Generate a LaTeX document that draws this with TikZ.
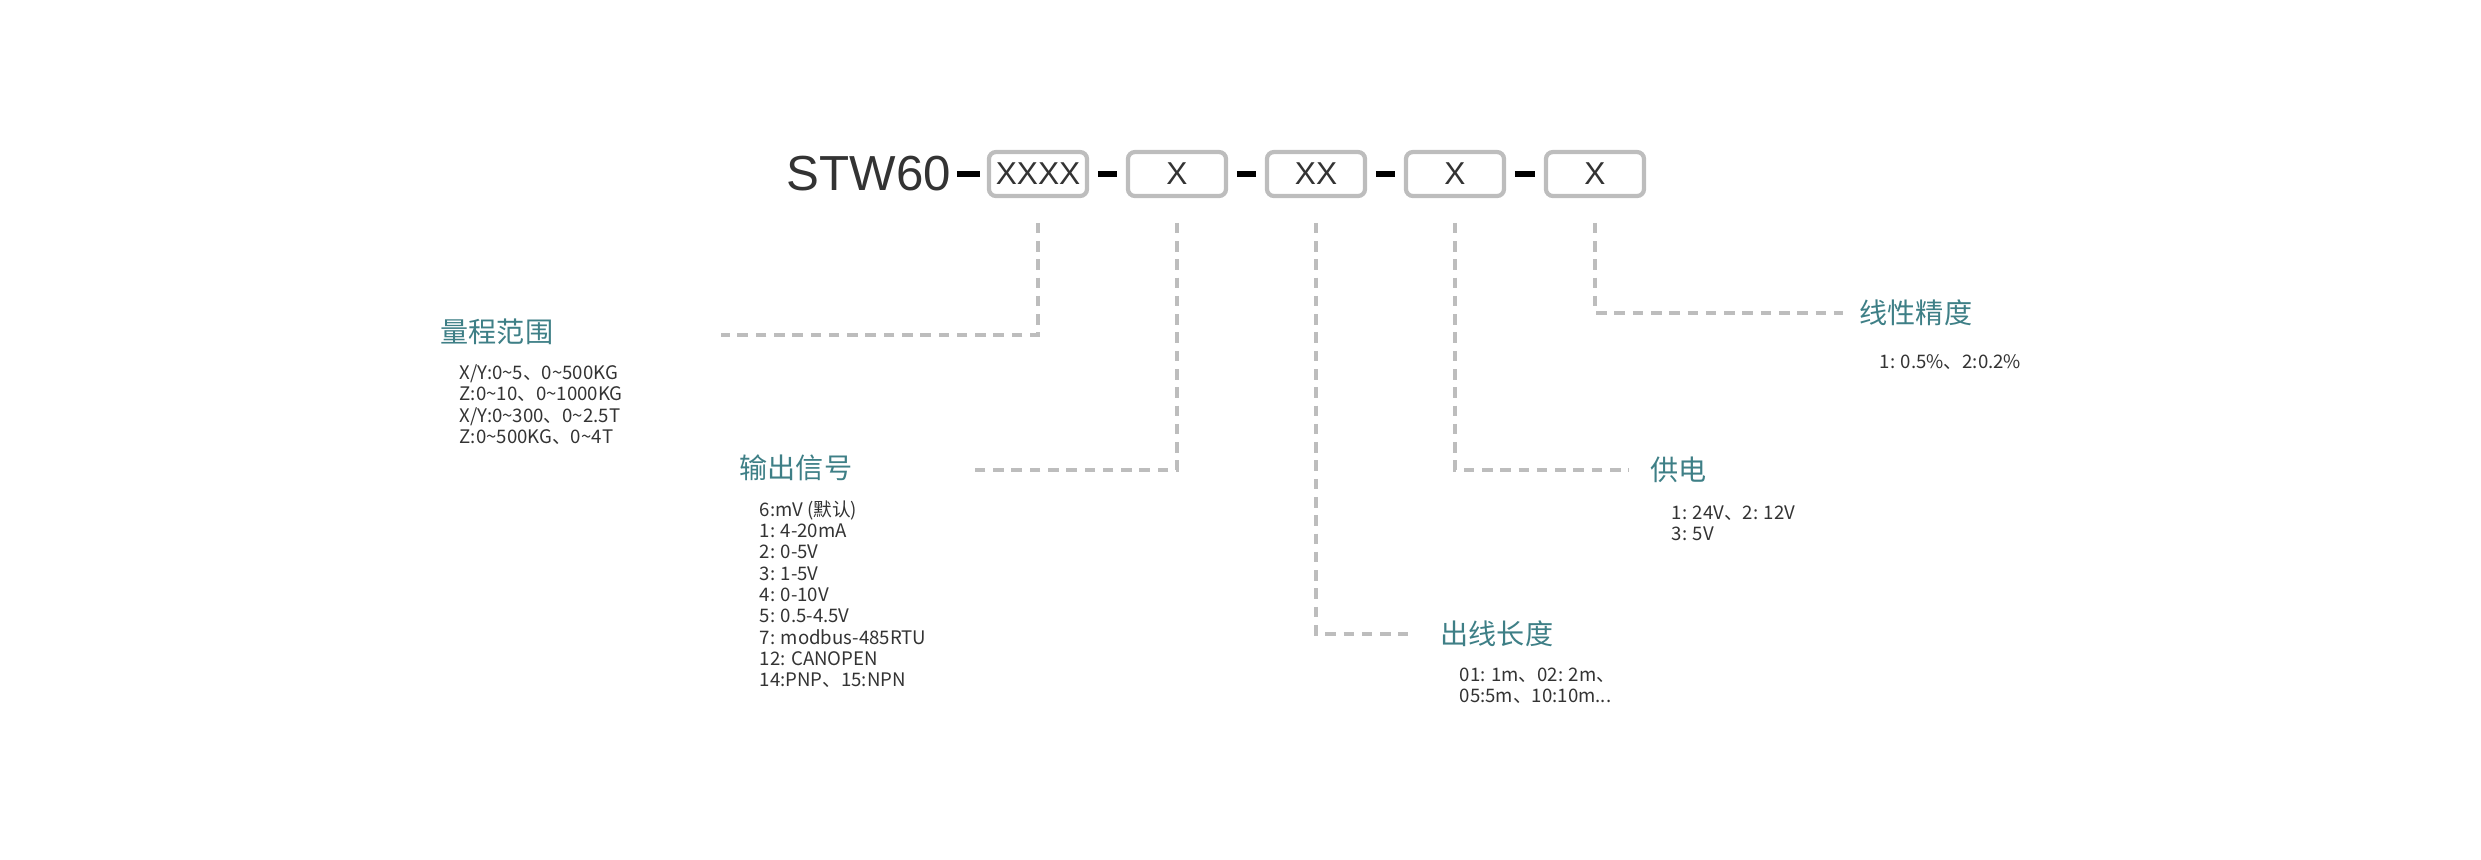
\documentclass[tikz,border=0pt]{standalone}
\usepackage{fontspec}
\setmainfont{Liberation Sans}
\newfontfamily\cjk{Noto Sans CJK SC}
\usetikzlibrary{positioning}
\definecolor{teal}{HTML}{3E7F86}
\definecolor{boxgray}{HTML}{BDBDBD}
\definecolor{txtgray}{HTML}{333333}
\tikzset{
  code/.style={draw=boxgray,line width=1.2pt,rounded corners=2pt,minimum width=0.98cm,minimum height=0.44cm,inner sep=0pt,font=\fontsize{9}{9}\selectfont,text=txtgray},
  lead/.style={draw=boxgray,line width=0.9pt,dash pattern=on 3pt off 2.2pt},
  head/.style={anchor=west,inner sep=0pt,text=teal,font=\cjk\fontsize{8}{8}\selectfont},
  items/.style={anchor=north west,inner sep=0pt,align=left,text=txtgray,font=\cjk\fontsize{5.3}{6.05}\selectfont},
  sep/.style={line width=1.6pt,black}
}
\begin{document}
\begin{tikzpicture}[x=0.01cm,y=-0.01cm]
      \useasboundingbox (0,0) rectangle (2481,859);
      % model code
      \node[anchor=west,inner sep=0pt,font=\fontsize{14}{14}\selectfont,text=txtgray] (stw) at (786,174) {STW60};
      \node[code] (c1) at (1038,174) {XXXX};
      \node[code] (c2) at (1177,174) {X};
      \node[code] (c3) at (1316,174) {XX};
      \node[code] (c4) at (1455,174) {X};
      \node[code] (c5) at (1595,174) {X};
      \draw[sep] ([xshift=1.5pt]stw.east) -- ([xshift=-2pt]c1.west);
      \foreach \a/\b in {c1/c2, c2/c3, c3/c4, c4/c5} {
        \draw[sep] ([xshift=2.5pt]\a.east) -- ([xshift=-2.5pt]\b.west);
      }
      % headings
      \node[head] (h1) at (440,332) {量程范围};
      \node[head] (h2) at (739,468) {输出信号};
      \node[head] (h3) at (1440,634) {出线长度};
      \node[head] (h4) at (1650,470) {供电};
      \node[head] (h5) at (1859,313) {线性精度};
      % options
      \node[items] (o1) at (459,364) {X/Y:0\textasciitilde5、0\textasciitilde500KG\\Z:0\textasciitilde10、0\textasciitilde1000KG\\X/Y:0\textasciitilde300、0\textasciitilde2.5T\\Z:0\textasciitilde500KG、0\textasciitilde4T};
      \node[items] (o2) at (759,500) {6:mV (默认)\\1: 4-20mA\\2: 0-5V\\3: 1-5V\\4: 0-10V\\5: 0.5-4.5V\\7: modbus-485RTU\\12: CANOPEN\\14:PNP、15:NPN};
      \node[items] (o3) at (1459,667) {01: 1m、02: 2m、\\05:5m、10:10m...};
      \node[items] (o4) at (1671,505) {1: 24V、2: 12V\\3: 5V};
      \node[items] (o5) at (1879,354) {1: 0.5\%、2:0.2\%};
      % leader lines
      \coordinate (e1) at (721,335);
      \coordinate (e2) at (973,470);
      \coordinate (e3) at (1408,634);
      \coordinate (e4) at (1629,470);
      \coordinate (e5) at (1843,313);
      \draw[lead] ([yshift=-7pt]c1.south) |- (e1);
      \draw[lead] ([yshift=-7pt]c2.south) |- (e2);
      \draw[lead] ([yshift=-7pt]c3.south) |- (e3);
      \draw[lead] ([yshift=-7pt]c4.south) |- (e4);
      \draw[lead] ([yshift=-7pt]c5.south) |- (e5);
    \end{tikzpicture}
\end{document}
